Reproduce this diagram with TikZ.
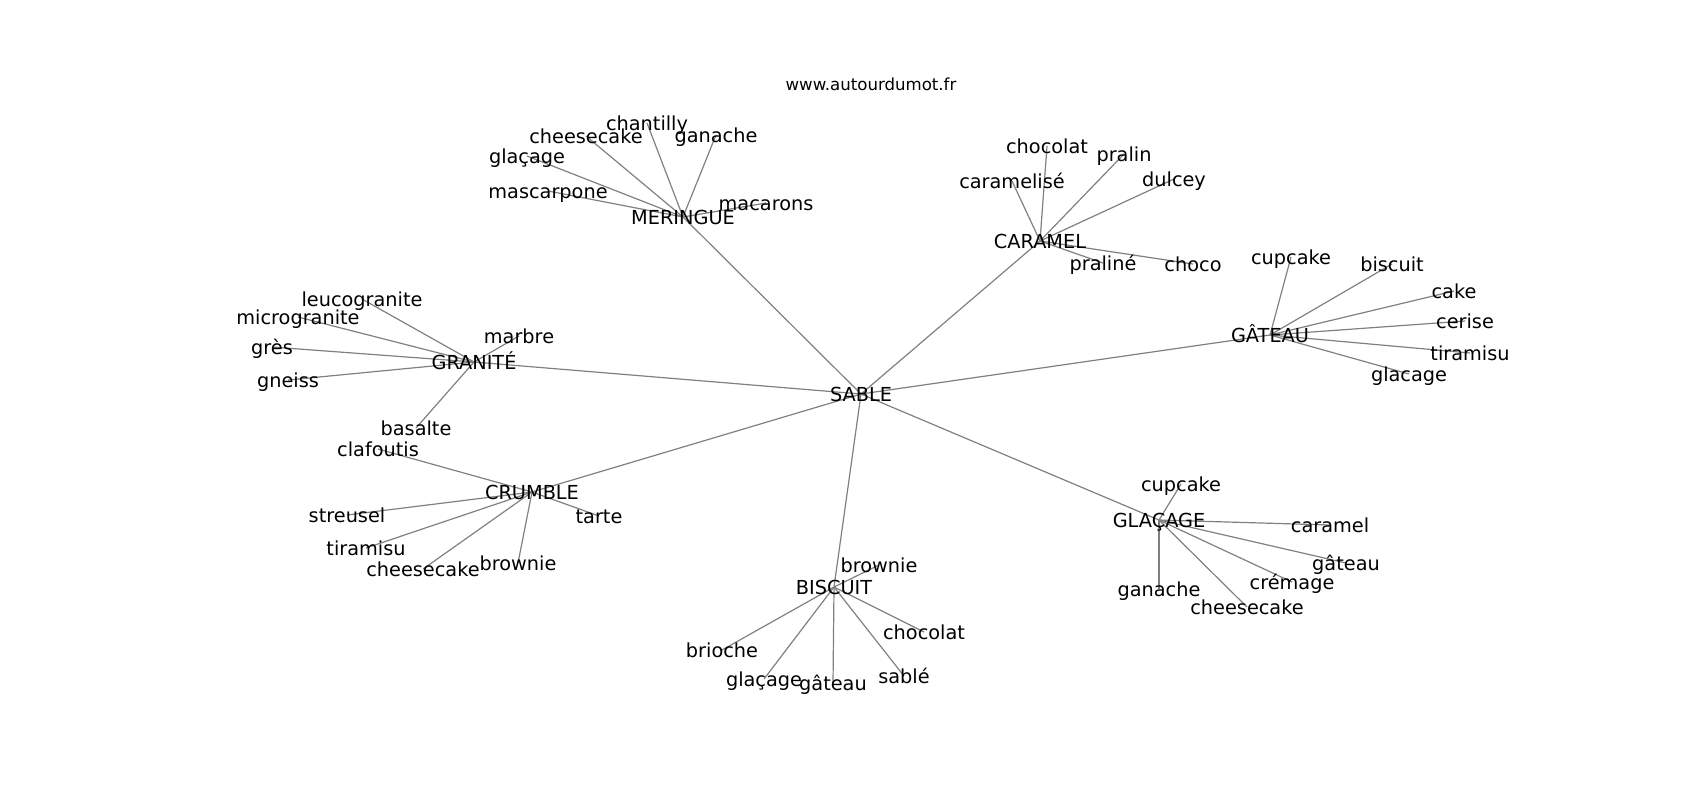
\documentclass[tikz,border=0pt]{standalone}
\usepackage{fontspec}
\setmainfont{DejaVu Sans}
\pgfdeclarelayer{bg}
\pgfsetlayers{bg,main}
\tikzset{
  word/.style={inner sep=0pt, text height=0.95em, text depth=0.24em, font=\fontsize{9.65}{11}\selectfont},
  link/.style={draw=gray, line width=0.6pt}
}
\begin{document}
\begin{tikzpicture}[x=0.5pt,y=-0.5pt]
\useasboundingbox (0,0) rectangle (1700,800);
\node[inner sep=0pt, text height=0.9em, text depth=0.2em, font=\fontsize{8.3}{10}\selectfont] (site) at (871,83){www.autourdumot.fr};
\node[word] (sable) at (861,394){SABLE};
% meringue
\node[word] (mer) at (683,217){MERINGUE};
\node[word] (mer1) at (548,191){mascarpone};
\node[word] (mer2) at (527,156){glaçage};
\node[word] (mer3) at (586,136){cheesecake};
\node[word] (mer4) at (647,123){chantilly};
\node[word] (mer5) at (716,135){ganache};
\node[word] (mer6) at (766,203){macarons};
% caramel
\node[word] (car) at (1040,241){CARAMEL};
\node[word] (car1) at (1012,181){caramelisé};
\node[word] (car2) at (1047,146){chocolat};
\node[word] (car3) at (1124,154){pralin};
\node[word] (car4) at (1174,179){dulcey};
\node[word] (car5) at (1103,263){praliné};
\node[word] (car6) at (1193,264){choco};
% gateau
\node[word] (gat) at (1270,335){GÂTEAU};
\node[word] (gat1) at (1291,257){cupcake};
\node[word] (gat2) at (1392,264){biscuit};
\node[word] (gat3) at (1454,291){cake};
\node[word] (gat4) at (1465,321){cerise};
\node[word] (gat5) at (1470,353){tiramisu};
\node[word] (gat6) at (1409,374){glacage};
% granite
\node[word] (gra) at (474,362){GRANITÉ};
\node[word] (gra1) at (362,299){leucogranite};
\node[word] (gra2) at (298,317){microgranite};
\node[word] (gra3) at (272,347){grès};
\node[word] (gra4) at (288,380){gneiss};
\node[word] (gra5) at (519,336){marbre};
\node[word] (gra6) at (416,428){basalte};
% crumble
\node[word] (cru) at (532,492){CRUMBLE};
\node[word] (cru1) at (378,449){clafoutis};
\node[word] (cru2) at (347,515){streusel};
\node[word] (cru3) at (366,548){tiramisu};
\node[word] (cru4) at (423,569){cheesecake};
\node[word] (cru5) at (518,563){brownie};
\node[word] (cru6) at (599,516){tarte};
% glacage
\node[word] (gla) at (1159,520){GLAÇAGE};
\node[word] (gla1) at (1181,484){cupcake};
\node[word] (gla2) at (1330,525){caramel};
\node[word] (gla3) at (1346,563){gâteau};
\node[word] (gla4) at (1292,582){crémage};
\node[word] (gla5) at (1247,607){cheesecake};
\node[word] (gla6) at (1159,589){ganache};
% biscuit
\node[word] (bis) at (834,587){BISCUIT};
\node[word] (bis1) at (879,565){brownie};
\node[word] (bis2) at (722,650){brioche};
\node[word] (bis3) at (764,679){glaçage};
\node[word] (bis4) at (833,683){gâteau};
\node[word] (bis5) at (904,676){sablé};
\node[word] (bis6) at (924,632){chocolat};
\begin{pgfonlayer}{bg}
\draw[link](sable.center) -- (mer.center);
\draw[link](sable.center) -- (car.center);
\draw[link](sable.center) -- (gat.center);
\draw[link](sable.center) -- (gra.center);
\draw[link](sable.center) -- (cru.center);
\draw[link](sable.center) -- (gla.center);
\draw[link](sable.center) -- (bis.center);
\foreach \i in {1,...,6}{
  \draw[link](mer.center) -- (mer\i.center);
  \draw[link](car.center) -- (car\i.center);
  \draw[link](gat.center) -- (gat\i.center);
  \draw[link](gra.center) -- (gra\i.center);
  \draw[link](cru.center) -- (cru\i.center);
  \draw[link](gla.center) -- (gla\i.center);
  \draw[link](bis.center) -- (bis\i.center);
}
\end{pgfonlayer}
\end{tikzpicture}
\end{document}
